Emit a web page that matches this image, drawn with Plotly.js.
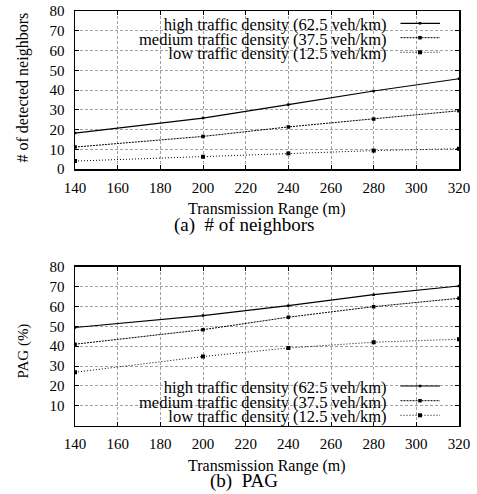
<!DOCTYPE html>
<html>
<head>
<meta charset="utf-8">
<script src="https://cdn.plot.ly/plotly-3.0.1.min.js"></script>
<style>html,body{margin:0;padding:0;background:#fff;}#chart{width:477px;height:494px;}</style>
</head>
<body>
<div id="chart"></div>
<script>
// ---- data ----
const ranges = [140, 200, 240, 280, 320];
const seriesNames = [
  "high traffic density (62.5 veh/km)",
  "medium traffic density (37.5 veh/km)",
  "low traffic density (12.5 veh/km)"
];
const neighborsHigh = [18.2, 25.8, 32.6, 39.5, 45.7];
const neighborsMedium = [11.1, 16.5, 21.3, 25.3, 29.5];
const neighborsLow = [4.0, 6.2, 7.9, 9.3, 10.3];
const pagHigh = [49.4, 55.4, 60.4, 65.9, 70.3];
const pagMedium = [41.0, 48.3, 54.6, 59.9, 64.1];
const pagLow = [26.9, 34.8, 39.1, 42.0, 43.5];
const xTicks = [140, 160, 180, 200, 220, 240, 260, 280, 300, 320];
const yTicksTop = [0, 10, 20, 30, 40, 50, 60, 70, 80];
const yTicksBottom = [10, 20, 30, 40, 50, 60, 70, 80];

// ---- layout helpers ----
const W = 477, H = 494;
const px = x => x / W;
const py = y => 1 - y / H;
const FONT = "Liberation Serif";

const styles = [
  {dash: "solid", width: 1.2, size: 2.5},
  {dash: "2px,1px", width: 1, size: 3.5},
  {dash: "1px,2px", width: 1, size: 4}
];

function trace(y, i, xa, ya) {
  return {
    x: ranges, y: y, xaxis: xa, yaxis: ya, type: "scatter", mode: "lines+markers",
    name: seriesNames[i], showlegend: false,
    line: {color: "#000", width: styles[i].width, dash: styles[i].dash},
    marker: {symbol: "square", size: styles[i].size, color: "#000"}
  };
}

const data = [
  trace(neighborsHigh, 0, "x", "y"),
  trace(neighborsMedium, 1, "x", "y"),
  trace(neighborsLow, 2, "x", "y"),
  trace(pagHigh, 0, "x2", "y2"),
  trace(pagMedium, 1, "x2", "y2"),
  trace(pagLow, 2, "x2", "y2")
];

const xDom = [px(75), px(459)];
const yDomTop = [py(169), py(11)];
const yDomBot = [py(425.7), py(266.7)];

function xAxis(anchor) {
  return {
    domain: xDom, anchor: anchor, range: [140, 320], tickvals: xTicks,
    ticks: "inside", ticklen: 4, tickcolor: "#000", mirror: "ticks",
    showline: true, linecolor: "#000", linewidth: 1.5,
    showgrid: true, gridcolor: "#a0a0a0", griddash: "3px,2px", gridwidth: 1,
    zeroline: false, ticklabelstandoff: 4,
    tickfont: {family: FONT, size: 15, color: "#000"}
  };
}
function yAxis(anchor, dom, tv) {
  return {
    domain: dom, anchor: anchor, range: [0, 80], tickvals: tv,
    ticks: "inside", ticklen: 4, tickcolor: "#000", mirror: "ticks",
    showline: true, linecolor: "#000", linewidth: 1.5,
    showgrid: true, gridcolor: "#a0a0a0", griddash: "3px,2px", gridwidth: 1,
    zeroline: false, ticklabelstandoff: 6,
    tickfont: {family: FONT, size: 15, color: "#000"}
  };
}

const annotations = [];
const shapes = [];

function addTitles(xTitleY, capY, capText, yTitle, yTitleY, yTitleSize) {
  annotations.push({xref: "paper", yref: "paper", x: px(267), y: py(xTitleY), xanchor: "center", yanchor: "middle",
    text: "Transmission Range (m)", showarrow: false, font: {family: FONT, size: 16, color: "#000"}});
  annotations.push({xref: "paper", yref: "paper", x: px(244), y: py(capY), xanchor: "center", yanchor: "middle",
    text: capText, showarrow: false, font: {family: FONT, size: 19, color: "#000"}});
  annotations.push({xref: "paper", yref: "paper", x: px(22.5), y: py(yTitleY), xanchor: "center", yanchor: "middle",
    text: yTitle, textangle: -90, showarrow: false, font: {family: FONT, size: yTitleSize, color: "#000"}});
}
addTitles(209, 225, "(a)  # of neighbors", "# of detected neighbors", 88, 16);
addTitles(465.5, 481, "(b)  PAG", "PAG (%)", 351, 15);

function addLegend(boxTop, boxBot, rows) {
  shapes.push({type: "rect", layer: "between", xref: "paper", yref: "paper",
    x0: px(75), x1: px(449), y0: py(boxBot), y1: py(boxTop),
    fillcolor: "#fff", line: {width: 0}});
  const rowGap = (rows[2] - rows[0]) / 2;
  const text = seriesNames.map(n => '<span style="font-size:16.5px">' + n + '</span>').join("<br>");
  annotations.push({xref: "paper", yref: "paper", x: px(389), y: py(rows[1] + 1), xanchor: "right", yanchor: "middle",
    align: "right", text: text, showarrow: false,
    font: {family: FONT, size: rowGap / 1.3, color: "#000"}});
  rows.forEach((ry, i) => {
    shapes.push({type: "line", layer: "above", xref: "paper", yref: "paper",
      x0: px(400.5), x1: px(440), y0: py(ry), y1: py(ry),
      line: {color: "#000", width: styles[i].width, dash: styles[i].dash}});
    const s = styles[i].size / 2;
    shapes.push({type: "rect", layer: "above", xref: "paper", yref: "paper",
      x0: px(420 - s), x1: px(420 + s), y0: py(ry - s), y1: py(ry + s),
      fillcolor: "#000", line: {width: 0}});
  });
}
addLegend(11, 60, [23.3, 37.7, 52.3]);
addLegend(376.7, 425.7, [386, 400.7, 415.3]);

const layout = {
  width: W, height: H,
  margin: {l: 0, r: 0, t: 0, b: 0},
  paper_bgcolor: "#fff", plot_bgcolor: "#fff",
  showlegend: false,
  font: {family: FONT, color: "#000"},
  xaxis: xAxis("y"), yaxis: yAxis("x", yDomTop, yTicksTop),
  xaxis2: xAxis("y2"), yaxis2: yAxis("x2", yDomBot, yTicksBottom),
  annotations: annotations, shapes: shapes
};

Plotly.newPlot("chart", data, layout, {displayModeBar: false, staticPlot: true});
</script>
</body>
</html>
